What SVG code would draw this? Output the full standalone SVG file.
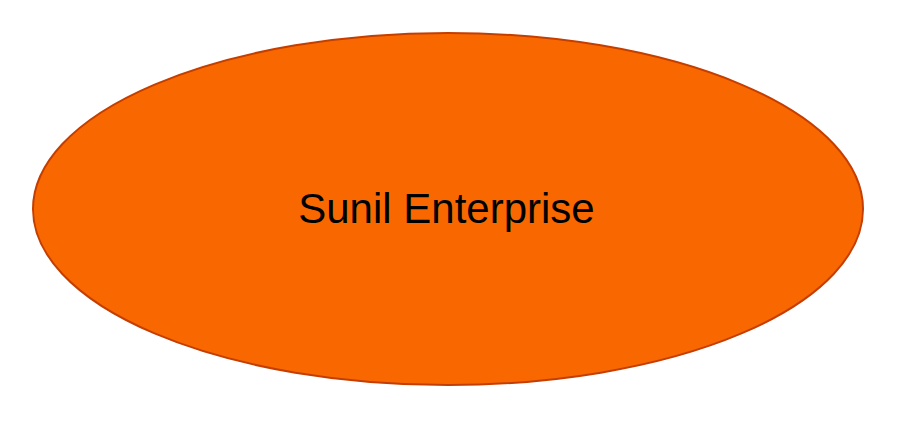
<svg xmlns="http://www.w3.org/2000/svg" width="899" height="422" viewBox="0 0 899 422">
<style>
.node{fill:#F96800;stroke:#C43E00;stroke-width:2}
.label{font-family:"Liberation Sans",Arial,sans-serif;font-size:42px;fill:#000;text-anchor:middle}
</style>
<rect width="899" height="422" fill="#fff"/>
<g id="connectors"></g>
<g id="node-sunil-enterprise">
<ellipse class="node" cx="448" cy="209" rx="415" ry="176"/>
<text class="label" x="446.5" y="223">Sunil Enterprise</text>
</g>
</svg>
